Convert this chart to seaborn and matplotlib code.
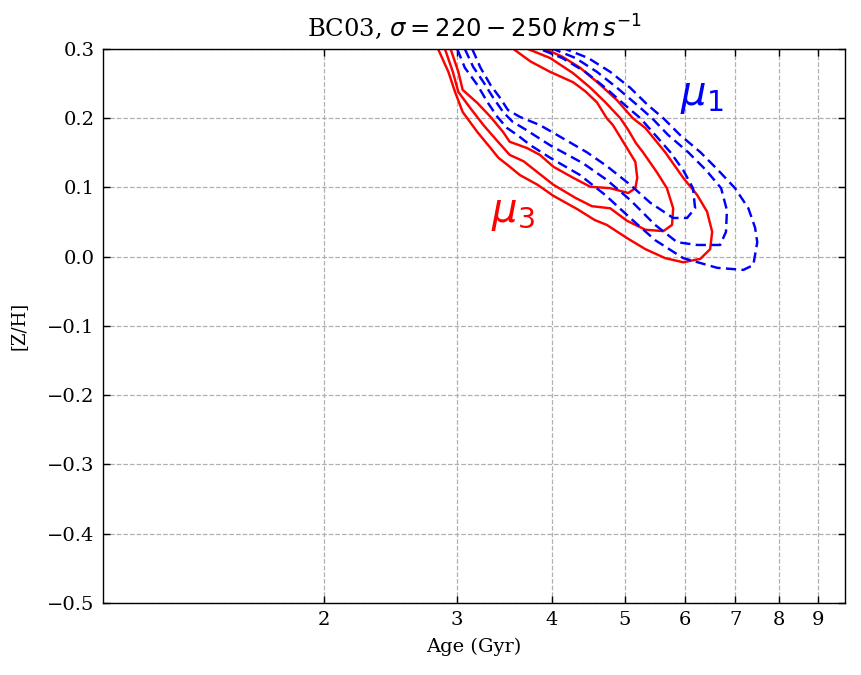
import numpy as np
import pandas as pd
import matplotlib
matplotlib.use('Agg')
import matplotlib.pyplot as plt
import seaborn as sns
from matplotlib.ticker import NullLocator

# mu_3 contours (red, solid), outer -> inner
red_outer_age = [2.83, 2.92, 2.98, 3.05, 3.19, 3.32, 3.40, 3.52, 3.63, 3.83, 4.02, 4.32,
                 4.56, 4.73, 5.03, 5.32, 5.65, 5.97, 6.29, 6.48, 6.52, 6.42, 6.23, 5.97,
                 5.65, 5.32, 5.12, 4.88, 4.63, 4.36, 4.13, 3.92]
red_outer_zh = [0.300, 0.267, 0.238, 0.209, 0.180, 0.157, 0.143, 0.130, 0.118, 0.104, 0.088, 0.069,
                0.053, 0.046, 0.027, 0.011, -0.002, -0.008, -0.003, 0.011, 0.036, 0.065, 0.089, 0.114,
                0.151, 0.186, 0.200, 0.226, 0.249, 0.273, 0.289, 0.300]

red_mid_age = [2.89, 2.96, 3.01, 3.12, 3.25, 3.39, 3.52, 3.67, 3.80, 4.02, 4.30, 4.52,
               4.78, 5.03, 5.32, 5.62, 5.77, 5.79, 5.68, 5.51, 5.28, 5.17, 5.05, 4.93,
               4.71, 4.50, 4.27, 3.98, 3.72]
red_mid_zh = [0.300, 0.267, 0.238, 0.215, 0.190, 0.167, 0.147, 0.138, 0.125, 0.104, 0.085, 0.073,
              0.070, 0.052, 0.039, 0.037, 0.046, 0.070, 0.099, 0.122, 0.151, 0.164, 0.183, 0.200,
              0.223, 0.244, 0.265, 0.287, 0.300]

red_in_age = [2.94, 3.01, 3.05, 3.19, 3.32, 3.45, 3.52, 3.71, 3.86, 4.02, 4.27, 4.50,
              4.78, 5.05, 5.16, 5.19, 5.16, 5.03, 4.82, 4.73, 4.59, 4.43, 4.27, 3.98,
              3.75, 3.56]
red_in_zh = [0.300, 0.267, 0.241, 0.222, 0.202, 0.180, 0.166, 0.157, 0.147, 0.130, 0.114, 0.101,
             0.099, 0.092, 0.099, 0.114, 0.137, 0.157, 0.190, 0.200, 0.223, 0.239, 0.252, 0.267,
             0.282, 0.300]

# mu_1 contours (blue, dashed), outer -> inner
blue_outer_age = [3.00, 3.07, 3.19, 3.29, 3.39, 3.49, 3.60, 3.75, 3.98, 4.36, 4.71, 5.08,
                  5.48, 5.97, 6.62, 7.17, 7.39, 7.48, 7.43, 7.28, 6.99, 6.64, 6.29, 5.91,
                  5.62, 5.36, 5.08, 4.78, 4.47, 4.17]
blue_outer_zh = [0.300, 0.273, 0.248, 0.223, 0.202, 0.186, 0.176, 0.161, 0.143, 0.118, 0.089, 0.056,
                 0.024, -0.002, -0.016, -0.019, -0.012, 0.021, 0.042, 0.070, 0.099, 0.125, 0.151, 0.176,
                 0.200, 0.219, 0.244, 0.267, 0.287, 0.300]

blue_mid_age = [3.07, 3.15, 3.25, 3.35, 3.45, 3.55, 3.69, 3.98, 4.40, 4.73, 5.08, 5.48,
                5.86, 6.23, 6.68, 6.80, 6.82, 6.70, 6.40, 6.06, 5.70, 5.43, 5.19, 4.88,
                4.59, 4.30, 4.02]
blue_mid_zh = [0.300, 0.274, 0.252, 0.229, 0.209, 0.195, 0.184, 0.161, 0.135, 0.111, 0.082, 0.046,
               0.021, 0.017, 0.017, 0.036, 0.067, 0.099, 0.125, 0.151, 0.176, 0.200, 0.219, 0.244,
               0.267, 0.287, 0.300]

blue_in_age = [3.14, 3.22, 3.32, 3.42, 3.50, 3.63, 3.86, 4.02, 4.45, 4.73, 5.08, 5.40,
               5.79, 6.04, 6.19, 6.15, 5.97, 5.74, 5.48, 5.24, 5.00, 4.71, 4.43, 4.13,
               3.86]
blue_in_zh = [0.300, 0.273, 0.248, 0.229, 0.212, 0.202, 0.190, 0.179, 0.151, 0.131, 0.104, 0.078,
              0.056, 0.056, 0.070, 0.099, 0.125, 0.151, 0.176, 0.200, 0.219, 0.244, 0.267, 0.287,
              0.300]

x_ticks = [2, 3, 4, 5, 6, 7, 8, 9]
y_ticks = [-0.5, -0.4, -0.3, -0.2, -0.1, 0.0, 0.1, 0.2, 0.3]

sns.set_style('ticks')
plt.rcParams['font.family'] = ['DejaVu Serif']
plt.rcParams['mathtext.fontset'] = 'dejavusans'
plt.rcParams.update({'axes.edgecolor': 'black', 'text.color': 'black',
                     'axes.labelcolor': 'black', 'xtick.color': 'black',
                     'ytick.color': 'black'})

fig = plt.figure(figsize=(8.61, 6.75), dpi=100)
ax = fig.add_axes([0.1196, 0.1067, 0.8618, 0.8207])

contours = [
    (red_outer_age, red_outer_zh, 'red', '-'),
    (red_mid_age, red_mid_zh, 'red', '-'),
    (red_in_age, red_in_zh, 'red', '-'),
    (blue_outer_age, blue_outer_zh, 'blue', (0, (4.2, 2.2))),
    (blue_mid_age, blue_mid_zh, 'blue', (0, (4.2, 2.2))),
    (blue_in_age, blue_in_zh, 'blue', (0, (4.2, 2.2))),
]
for age, zh, col, ls in contours:
    df = pd.DataFrame({'age': age, 'zh': zh})
    sns.lineplot(data=df, x='age', y='zh', sort=False, estimator=None,
                 color=col, linestyle=ls, linewidth=1.75, ax=ax)

ax.set_xscale('log')
ax.set_xlim(1.02, 9.77)
ax.set_ylim(-0.5, 0.3)
ax.set_xticks(x_ticks)
ax.set_xticklabels([str(t) for t in x_ticks])
ax.xaxis.set_minor_locator(NullLocator())
ax.set_yticks(y_ticks)
ax.grid(True, color='#b0b0b0', linestyle='--', linewidth=0.9)
ax.tick_params(which='both', direction='in', top=True, right=True,
               length=5, width=1, labelsize=14, pad=6)
for sp in ax.spines.values():
    sp.set_linewidth(1.0)

ax.set_xlabel('Age (Gyr)', fontsize=14, labelpad=6)
ax.set_ylabel('[Z/H]', fontsize=13, labelpad=14)
ax.set_title(r'BC03, $\sigma = 220 - 250\,km\,s^{-1}$', fontsize=17.5, pad=9)

ax.text(5.91, 0.219, r'$\mu_1$', color='blue', fontsize=29)
ax.text(3.32, 0.050, r'$\mu_3$', color='red', fontsize=29)

fig.savefig('out.png', dpi=100)
